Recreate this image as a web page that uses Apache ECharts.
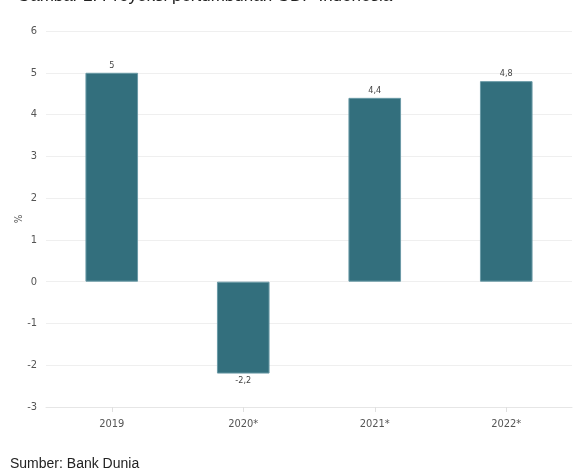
<!DOCTYPE html>
<html><head><meta charset="utf-8">
<script src="https://cdn.jsdelivr.net/npm/echarts@6/dist/echarts.min.js"></script>
<style>html,body{margin:0;padding:0;background:#fff}#c{width:573px;height:474px}</style>
</head><body><div id="c"></div>
<script>
var categories = ['2019', '2020*', '2021*', '2022*'];
var growth = [5, -2.2, 4.4, 4.8];
var titleText = 'Gambar 2. Proyeksi pertumbuhan GDP Indonesia';
var sourceText = 'Sumber: Bank Dunia';
var axisFont = '"DejaVu Sans Condensed", "Liberation Sans Narrow", sans-serif';

var chart = echarts.init(document.getElementById('c'), null, {renderer: 'canvas'});
chart.setOption({
  animation: false,
  backgroundColor: '#fff',
  grid: {left: 46, right: 1, top: 31, bottom: 67, containLabel: false, outerBoundsMode: 'none'},
  xAxis: {
    type: 'category', data: categories,
    axisLine: {show: true, onZero: false, lineStyle: {color: '#e6e6e6'}},
    axisTick: {show: true, alignWithLabel: true, length: 5, lineStyle: {color: '#e0e0e0'}},
    axisLabel: {color: '#555', fontSize: 11, fontFamily: axisFont, margin: 12}
  },
  yAxis: {
    type: 'value', min: -3, max: 6, interval: 1,
    name: '%', nameLocation: 'middle', nameGap: 22, nameRotate: 90, nameMoveOverlap: false,
    nameTextStyle: {color: '#555', fontSize: 10, fontFamily: axisFont},
    axisLine: {show: false}, axisTick: {show: false},
    axisLabel: {color: '#555', fontSize: 11, fontFamily: axisFont, margin: 9},
    splitLine: {lineStyle: {color: '#efefef'}}
  },
  series: [{
    type: 'bar',
    data: growth.map(function (v) {
      return {value: v, label: {position: v < 0 ? 'bottom' : 'top'}};
    }),
    barWidth: '40%',
    itemStyle: {color: '#336f7d', borderColor: '#6a9aa6', borderWidth: 1},
    label: {
      show: true, color: '#444', fontSize: 9, fontFamily: axisFont, distance: 3,
      formatter: function (p) { return String(p.value).replace('.', ','); }
    }
  }],
  graphic: [
    {type: 'text', left: 17, top: -12, style: {text: titleText, fill: '#222', font: '17px "Liberation Sans", Arial, sans-serif'}},
    {type: 'text', left: 10, top: 457, style: {text: sourceText, fill: '#222', font: '14px "Liberation Sans", Arial, sans-serif'}}
  ]
});
</script></body></html>
